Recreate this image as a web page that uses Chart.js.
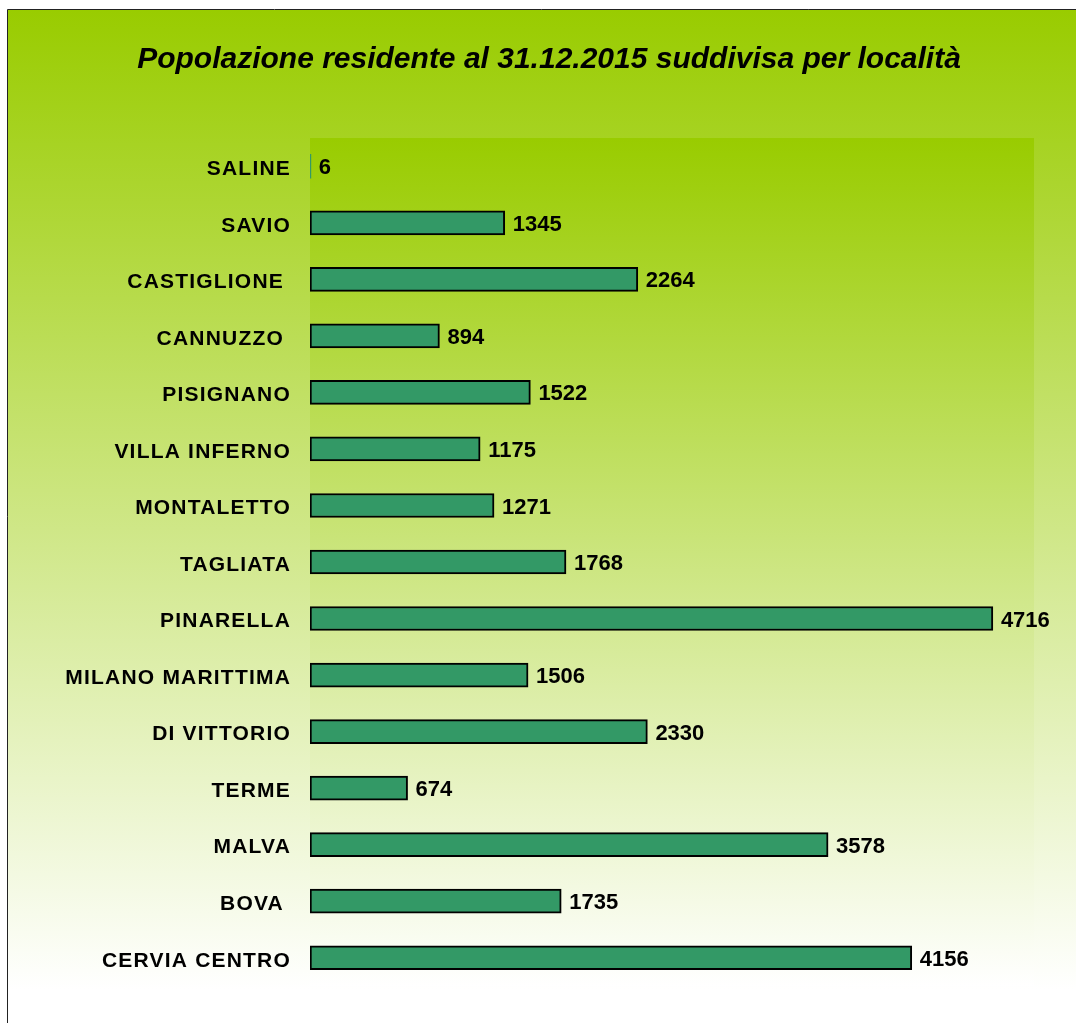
<!DOCTYPE html>
<html lang="it">
<head>
  <meta charset="UTF-8">
  <title>Popolazione residente per località</title>
  <script src="https://cdn.jsdelivr.net/npm/chart.js"></script>
  <style>
    html, body { margin: 0; padding: 0; background: #fff; }
    #wrap { width: 1076px; height: 1023px; position: relative; }
  </style>
</head>
<body>
  <div id="wrap"><canvas id="chart" width="1076" height="1023"></canvas></div>

  <script>
    // dati (dall'alto verso il basso)
    const localita = ['SALINE', 'SAVIO', 'CASTIGLIONE ', 'CANNUZZO ', 'PISIGNANO', 'VILLA INFERNO',
      'MONTALETTO', 'TAGLIATA', 'PINARELLA', 'MILANO MARITTIMA', 'DI VITTORIO', 'TERME',
      'MALVA', 'BOVA ', 'CERVIA CENTRO'];
    const residenti = [6, 1345, 2264, 894, 1522, 1175, 1271, 1768, 4716, 1506, 2330, 674, 3578, 1735, 4156];
    const titolo = 'Popolazione residente al 31.12.2015 suddivisa per località';
    const asseMax = 5000;

    Chart.defaults.font.family = '"Liberation Sans", Arial, sans-serif';
    Chart.defaults.color = '#000';

    // sfondo sfumato esterno + cornice
    const sfondo = {
      id: 'sfondo',
      beforeDraw(chart) {
        const ctx = chart.ctx;
        ctx.save();
        let g = ctx.createLinearGradient(0, 10, 0, 990);
        g.addColorStop(0, '#99cc00');
        g.addColorStop(1, '#ffffff');
        ctx.fillStyle = g;
        ctx.fillRect(8, 10, chart.width - 8, chart.height - 10);
        ctx.strokeStyle = '#222';
        ctx.lineWidth = 1;
        ctx.beginPath();
        ctx.moveTo(7.5, chart.height);
        ctx.lineTo(7.5, 9.5);
        ctx.lineTo(chart.width, 9.5);
        ctx.stroke();

        // area del grafico
        const a = chart.chartArea;
        g = ctx.createLinearGradient(0, a.top, 0, a.bottom);
        g.addColorStop(0, '#99cc00');
        g.addColorStop(1, '#ffffff');
        ctx.fillStyle = g;
        ctx.fillRect(a.left, a.top, a.right - a.left, a.bottom - a.top);
        ctx.restore();
      }
    };

    // etichette con i valori a destra delle barre
    const valori = {
      id: 'valori',
      afterDatasetsDraw(chart) {
        const ctx = chart.ctx;
        const meta = chart.getDatasetMeta(0);
        ctx.save();
        ctx.font = 'bold 22px "Liberation Sans", Arial, sans-serif';
        ctx.fillStyle = '#000';
        ctx.textAlign = 'left';
        ctx.textBaseline = 'middle';
        meta.data.forEach((bar, i) => {
          ctx.fillText(String(residenti[i]), bar.x + 8, bar.y + 2);
        });
        ctx.restore();
      }
    };

    new Chart(document.getElementById('chart'), {
      type: 'bar',
      data: {
        labels: localita,
        datasets: [{
          data: residenti,
          backgroundColor: '#339966',
          borderColor: '#000',
          borderWidth: ctx => (ctx.raw < 50 ? 0 : 2),
          borderSkipped: false,
          barThickness: 24
        }]
      },
      options: {
        indexAxis: 'y',
        responsive: false,
        animation: false,
        layout: { padding: { left: 64, right: 42, top: 0, bottom: 37 } },
        plugins: {
          legend: { display: false },
          tooltip: { enabled: false },
          title: {
            display: true,
            text: titolo,
            font: { size: 30, weight: 'bold', style: 'italic' },
            color: '#000',
            padding: { top: 42, bottom: 60 }
          }
        },
        scales: {
          x: {
            display: false,
            min: 0,
            max: asseMax
          },
          y: {
            grid: { display: false, drawTicks: false },
            border: { display: false },
            ticks: {
              font: { size: 21, weight: 'bold' },
              color: '#000',
              padding: 19,
              autoSkip: false
            },
            afterFit: function(scale) {
              scale.width = 246;
              if (!scale._spaziato) {
                const orig = scale.drawLabels;
                scale.drawLabels = function(area) {
                  const c = this.ctx;
                  c.save();
                  c.translate(0, 3);
                  c.letterSpacing = '1.2px';
                  orig.call(this, area);
                  c.letterSpacing = '0px';
                  c.restore();
                };
                scale._spaziato = true;
              }
            }
          }
        }
      },
      plugins: [sfondo, valori]
    });
  </script>
</body>
</html>
